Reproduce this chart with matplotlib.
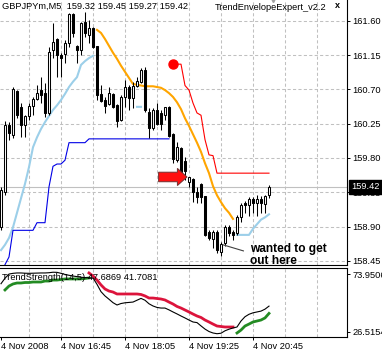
import numpy as np
import pandas as pd
import matplotlib
matplotlib.use("Agg")
import matplotlib.pyplot as plt
from matplotlib.patches import FancyArrow

plt.rcParams['font.family'] = ['Liberation Sans', 'DejaVu Sans']

# GBPJPYm M5 bars, 4 Nov 2008
opens = [158.89, 159.35, 160.23, 160.10, 160.67, 160.46, 160.23, 160.35, 160.48, 160.57,
         160.69, 160.65, 160.39, 161.22, 161.35, 161.15, 161.16, 161.31, 161.68, 161.26,
         161.22, 161.58, 161.41, 161.50, 161.26, 160.64, 160.56, 160.51, 160.64, 160.49,
         160.30, 160.60, 160.73, 160.59, 160.74, 160.80, 160.95, 160.40, 160.19, 160.42,
         160.38, 160.36, 160.47, 160.11, 159.77, 159.93, 159.76, 159.48, 159.52, 159.35,
         159.45, 159.29, 158.82, 158.74, 158.82, 158.57, 158.68, 158.89, 158.83, 158.82,
         159.02, 159.21, 159.18, 159.26, 159.21, 159.26, 159.20, 159.32]
highs = [159.42, 160.28, 160.27, 160.73, 160.69, 160.52, 160.36, 160.52, 160.60, 160.76,
         160.86, 160.78, 161.26, 161.57, 161.37, 161.18, 161.35, 161.70, 161.70, 161.28,
         161.58, 161.72, 161.61, 161.52, 161.27, 160.76, 160.60, 160.73, 160.65, 160.51,
         160.63, 160.82, 160.76, 160.80, 160.86, 160.98, 160.99, 160.46, 160.46, 160.52,
         160.43, 160.47, 160.48, 160.13, 160.01, 159.94, 159.81, 159.55, 159.54, 159.42,
         159.47, 159.30, 158.85, 158.85, 158.85, 158.70, 158.92, 158.92, 158.85, 159.05,
         159.21, 159.24, 159.29, 159.29, 159.31, 159.30, 159.31, 159.45]
lows = [158.85, 159.31, 160.04, 160.06, 160.32, 160.07, 160.07, 160.30, 160.36, 160.56,
        160.52, 160.34, 160.36, 161.11, 160.86, 160.86, 161.05, 161.26, 161.39, 161.05,
        161.15, 161.39, 161.31, 161.24, 160.56, 160.53, 160.39, 160.49, 160.46, 160.21,
        160.28, 160.47, 160.43, 160.46, 160.73, 160.78, 160.40, 160.06, 160.17, 160.23,
        160.17, 160.30, 160.07, 159.73, 159.75, 159.59, 159.51, 159.42, 159.22, 159.21,
        159.21, 158.78, 158.72, 158.62, 158.55, 158.51, 158.64, 158.78, 158.72, 158.79,
        158.96, 159.08, 159.04, 159.08, 159.04, 159.08, 159.08, 159.27]
closes = [159.38, 160.23, 160.13, 160.70, 160.36, 160.23, 160.35, 160.48, 160.57, 160.65,
          160.63, 160.39, 161.19, 161.32, 161.15, 161.11, 161.31, 161.68, 161.44, 161.22,
          161.57, 161.44, 161.50, 161.26, 160.63, 160.55, 160.48, 160.65, 160.47, 160.28,
          160.60, 160.73, 160.59, 160.74, 160.81, 160.95, 160.43, 160.19, 160.42, 160.25,
          160.25, 160.46, 160.09, 159.79, 159.94, 159.62, 159.63, 159.54, 159.35, 159.29,
          159.29, 158.79, 158.75, 158.82, 158.59, 158.66, 158.89, 158.82, 158.79, 159.02,
          159.18, 159.18, 159.26, 159.21, 159.26, 159.21, 159.29, 159.42]

# TrendEnvelope lines: (first bar, values)
env_up = [(0, [158.59, 158.66, 158.75, 158.89, 159.08, 159.27, 159.46, 159.68, 159.94, 160.07,
               160.18, 160.27, 160.35, 160.43, 160.49, 160.56, 160.64, 160.73, 160.80, 160.86,
               161.02, 161.07, 161.11, 161.14]),
          (34, [160.47, 160.47]),
          (59, [158.79, 158.79, 158.79, 158.79, 158.87, 158.93, 158.99, 159.02, 159.06])]
env_down = [(24, [161.48, 161.44, 161.36, 161.27, 161.18, 161.10, 161.01, 160.93, 160.85, 160.77,
                  160.76, 160.75, 160.74, 160.74, 160.74, 160.73, 160.72, 160.69, 160.65, 160.60,
                  160.53, 160.44, 160.32, 160.22, 160.11, 160.00, 159.88, 159.73, 159.60, 159.43,
                  159.31, 159.22, 159.14, 159.08, 159.00])]
stop_up = [(1, [158.40, 158.50] + [158.85] * 6 + [158.95] * 3 +
            [159.42, 159.69, 159.72, 159.72, 159.77] + [160.00] * 5 + [160.05] * 21)]
stop_down = [(43, [161.03, 161.03, 161.03, 160.75, 160.69, 160.52, 160.39, 160.36, 160.04,
                   159.84, 159.83] + [159.60] * 14)]
stop_dot_bar = 43

# TrendStrength(14,5)
ts_line = [66.0, 70.5, 73.9, 74.5, 74.8, 74.8, 74.6, 74.5, 74.6, 74.7,
           74.8, 74.8, 75.0, 75.4, 75.3, 74.5, 73.6, 72.9, 72.3, 71.8,
           71.3, 71.0, 70.9, 70.7, 65.5, 59.5, 56.0, 53.3, 50.5, 48.6,
           49.8, 50.4, 50.7, 51.0, 52.5, 54.0, 52.5, 49.6, 47.8, 46.6,
           46.1, 46.1, 44.6, 42.9, 41.3, 39.6, 38.0, 36.3, 34.7, 34.2,
           31.5, 28.9, 26.9, 25.7, 25.1, 25.5, 27.5, 28.8, 29.8, 30.6,
           35.5, 39.0, 41.0, 42.2, 42.9, 43.6, 45.2, 47.6869]
ts_rise = [(1, [60.9, 64.1, 65.8, 66.6, 66.6, 67.0, 67.0, 67.4, 67.4, 67.4, 68.2,
                68.2, 69.0, 69.0, 69.4, 69.9, 69.9, 69.9, 69.9, 69.9, 70.3, 70.7]),
           (59, [25.7, 28.1, 31.4, 33.0, 34.7, 35.5, 36.3, 38.0, 41.7081])]
ts_fall = [(22, [74.8, 72.3, 69.0, 65.0, 61.7, 60.0, 59.2, 57.6, 57.6, 57.6, 57.6, 57.6,
                 57.6, 57.2, 56.0, 54.3, 54.3, 53.9, 53.5, 52.7, 51.0, 49.4, 47.4, 46.1,
                 44.5, 42.9, 41.2, 39.6, 38.4, 36.3, 34.7, 33.0, 31.4, 31.0, 30.6, 30.6, 30.6])]

price_ticks = [161.60, 161.15, 160.70, 160.25, 159.80, 159.35, 158.90, 158.45]
ts_ticks = [73.9506, 26.5154]
times = pd.date_range("2008-11-04 15:30", periods=len(closes), freq="5min")
date_ticks = ["2008-11-04 15:30", "2008-11-04 16:45", "2008-11-04 18:05",
              "2008-11-04 19:25", "2008-11-04 20:45"]
date_labels = ["4 Nov 2008", "4 Nov 16:45", "4 Nov 18:05", "4 Nov 19:25", "4 Nov 20:45"]

n = len(closes)
idx = np.arange(n)


def series(pieces):
    out = np.full(n, np.nan)
    for start, vals in pieces:
        out[start:start + len(vals)] = vals
    return out


W, H = 382, 353
fig = plt.figure(figsize=(W / 100, H / 100), dpi=100)
ax = fig.add_axes([0, 88 / H, 347 / W, 265 / H])
sub = fig.add_axes([0, 16 / H, 347 / W, 69 / H])

grid_kw = dict(color='#c0c0c0', lw=0.75, dashes=(3, 2.2), zorder=0)
for a in (ax, sub):
    a.set_xlim(-0.25, 86.5)
    for g in range(7, 87, 8):
        a.axvline(g, **grid_kw)
    a.spines['left'].set_visible(False)
    a.spines['top'].set_visible(False)
    for s in ('right', 'bottom'):
        a.spines[s].set_linewidth(0.8)
    a.yaxis.tick_right()
    a.tick_params(axis='y', length=2.5, width=0.7, pad=1.6, labelsize=6.7)
sub.spines['top'].set_visible(True)
sub.spines['top'].set_linewidth(0.8)

# main chart
ax.set_ylim(158.395, 161.872)
for p in price_ticks:
    ax.axhline(p, **grid_kw)
ax.set_yticks(price_ticks)
ax.set_yticklabels([f"{p:.2f}" for p in price_ticks])
ax.set_xticks([])
ax.axhline(closes[-1], color='#c0c0c0', lw=0.8, zorder=0.5)

bull = np.array(closes) >= np.array(opens)
ax.vlines(idx, lows, highs, color='black', lw=0.75, zorder=3)
ax.bar(idx, np.abs(np.array(closes) - np.array(opens)) + 0.004,
       bottom=np.minimum(opens, closes), width=0.5,
       color=np.where(bull, 'white', 'black'), edgecolor='black', lw=0.75, zorder=4)

ax.plot(idx, series(env_up), color='#9ccfe9', lw=1.5, zorder=2)
ax.plot(idx, series(env_down), color='#ffa500', lw=1.5, zorder=2)
ax.plot(idx, series(stop_up), color='#0000e6', lw=0.8, zorder=2)
ax.plot(idx, series(stop_down), color='#ff0000', lw=0.8, zorder=2)
ax.plot(stop_dot_bar, series(stop_down)[stop_dot_bar], 'o', color='#ff0000',
        ms=6.5, zorder=5)

ax.add_patch(FancyArrow(39.4, 159.55, 7.1, 0, width=0.125, head_width=0.225,
                        head_length=2.4, length_includes_head=True,
                        fc='#ff1010', ec='#703030', lw=0.7, zorder=6))

ax.plot([55.5, 60.6], [158.66, 158.58], color='#404040', lw=0.8, zorder=6)
ax.text(62.2, 158.62, "wanted to get\nout here", fontsize=8.6, fontweight='bold',
        ha='left', va='top', linespacing=1.0, zorder=7, clip_on=False,
        transform=ax.transData).set_y(158.69)

ax.annotate(f"{closes[-1]:.2f}", xy=(1, closes[-1]), xycoords=('axes fraction', 'data'),
            xytext=(3.3, 0), textcoords='offset points', ha='left', va='center',
            fontsize=6.7, color='white', annotation_clip=False, zorder=10,
            bbox=dict(boxstyle='square,pad=0.25', fc='black', ec='black'))

fig.text(2 / W, 1 - 6 / H, f"GBPJPYm,M5  {opens[-1]:.2f} {highs[-1]:.2f} "
         f"{lows[-1]:.2f} {closes[-1]:.2f}", fontsize=6.7, va='center', ha='left')
fig.text(215 / W, 1 - 7 / H, "TrendEnvelopeExpert_v2.2", fontsize=6.7, va='center',
         ha='left')
fig.text(335 / W, 1 - 6 / H, "x", fontsize=6.5, fontweight='bold', va='center',
         ha='left')
ax.plot(0.787, 1.0, marker='v', color='#a0a0a0', ms=3, transform=ax.transAxes,
        clip_on=False)

# TrendStrength subwindow
sub.set_ylim(22.42, 78.86)
sub.set_yticks(ts_ticks)
sub.set_yticklabels([f"{v:.4f}" for v in ts_ticks])
sub.plot(idx, ts_line, color='black', lw=0.8, zorder=3)
sub.plot(idx, series(ts_rise), color='#238b23', lw=2.0, zorder=2)
sub.plot(idx, series(ts_fall), color='#dc143c', lw=2.0, zorder=2)
sub.text(2 / 347, 1 - 10 / 69, f"TrendStrength(14,5) {ts_line[-1]:.4f} "
         f"{series(ts_rise)[-1]:.4f}", transform=sub.transAxes, fontsize=6.7,
         va='center', ha='left', zorder=5)

tick_pos = [int(np.where(times == pd.Timestamp(t))[0][0]) for t in date_ticks]
sub.set_xticks(tick_pos)
sub.set_xticklabels(date_labels)
sub.tick_params(axis='x', length=2.5, width=0.7, pad=1.2, labelsize=6.7)
for lab in sub.get_xticklabels():
    lab.set_horizontalalignment('left')

fig.savefig("out.png", dpi=100)
